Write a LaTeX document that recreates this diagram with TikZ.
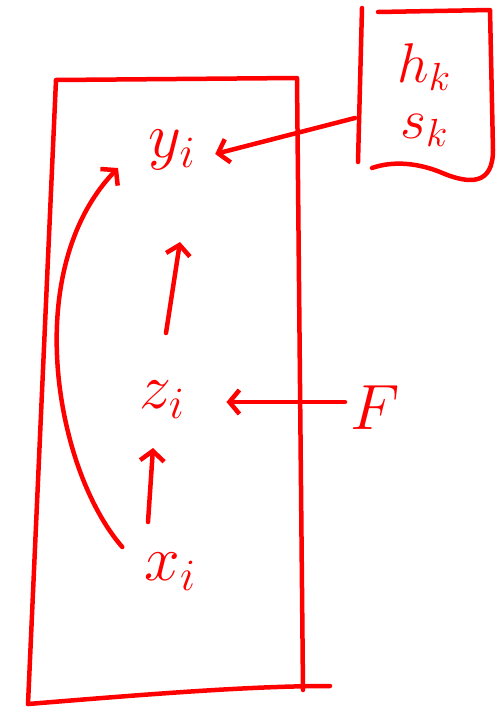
\RequirePackage{fix-cm}
\documentclass[tikz,border=0pt]{standalone}
\usetikzlibrary{arrows.meta}
\begin{document}
\begin{tikzpicture}[x=1pt,y=-1pt,
  ink/.style={draw=red,line width=4.5pt,line cap=round,line join=round},
  arr/.style={ink,-{Straight Barb[length=10pt,width=24pt,line width=4.5pt]}},
  lbl/.style={text=red,font=\fontsize{64}{70}\selectfont,inner sep=2pt}]
\useasboundingbox (0,0) rectangle (496,712);
% plate
\draw[ink] (56,80) -- (297,78) -- (303,690) (28,704) -- (56,80);
\draw[ink] (28,704) .. controls (150,694) and (250,686) .. (330,686);
% nodes
\node[lbl] (y) at (172,150) {$y_i$};
\node[lbl] (z) at (162,400) {$z_i$};
\node[lbl] (x) at (170,572) {$x_i$};
\node[lbl] (F) at (375,408) {$F$};
\node[lbl,align=center,inner sep=6pt,font=\fontsize{56}{62}\selectfont] (hs) at (424,95) {$h_k$\\[-6pt]$s_k$};
% box round h_k s_k
\draw[ink] (362,8) -- (358,162);
\draw[ink] (378,12) -- (490,10) -- (493,150) .. controls (493,185) and (470,185) .. (440,172)
  .. controls (420,164) and (395,160) .. (372,168);
\coordinate (hsl) at (355,118);
\coordinate (Fl) at (345,402);
\coordinate (ye) at (180,242);
\coordinate (zs) at (166,333);
\coordinate (ze) at (153,448);
\coordinate (xs) at (148,522);
% connectors
\draw[arr] (hsl) -- ([xshift=18pt,yshift=-4pt]y.east);
\draw[arr] (Fl) -- ([xshift=40pt,yshift=-2pt]z.east);
\draw[arr] (zs) -- (ye);
\draw[arr] (xs) -- (ze);
\draw[arr] (x.west) ++(-20,-25) .. controls (55,470) and (20,270) .. (118,168);
\end{tikzpicture}
\end{document}
